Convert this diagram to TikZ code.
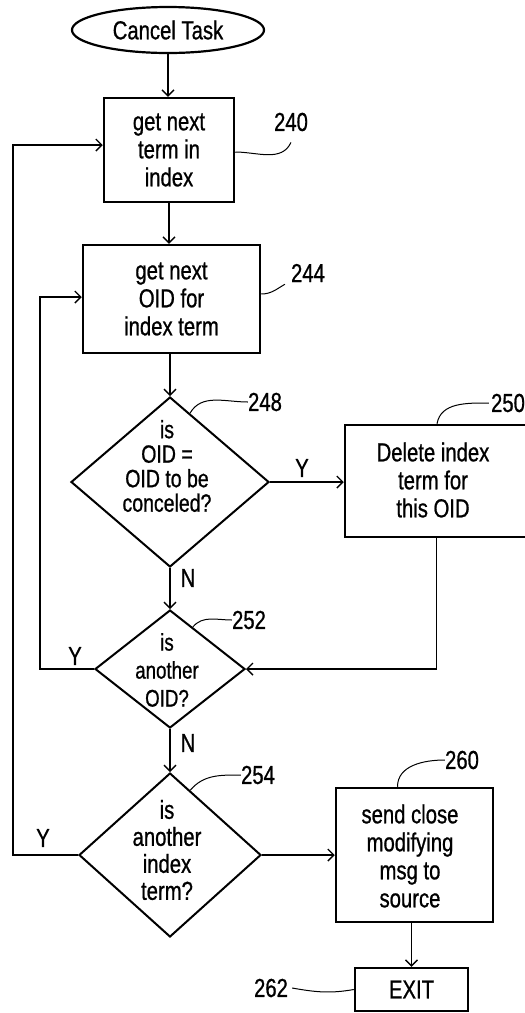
\documentclass[tikz,border=0pt]{standalone}
\usepackage{fontspec}
\setmainfont{Liberation Sans}[FakeStretch=0.78,FakeBold=0.8]
\usetikzlibrary{shapes.geometric,arrows.meta,calc}
\tikzset{
  every node/.style={font=\fontsize{26}{28}\selectfont},
  boxn/.style={draw, line width=2.5pt, inner sep=0pt, align=center},
  dia/.style={draw, diamond, line width=2pt, inner sep=0pt},
  dtxt/.style={inner sep=0pt, align=center},
  arr/.style={line width=1.5pt, -{Straight Barb[length=6pt,width=12pt,line width=1.4pt]}},
  con/.style={line width=1.5pt},
  lead/.style={line width=1pt},
  lbl/.style={inner sep=0pt},
}
\begin{document}
\begin{tikzpicture}[x=1pt,y=-1pt]
\useasboundingbox (0,0) rectangle (525,1013);
% nodes
\node[draw, ellipse, line width=2.2pt, inner sep=0pt, minimum width=192pt, minimum height=46pt] (start) at (168,30) {Cancel Task};
\node[boxn, minimum width=130pt, minimum height=104pt] (b240) at (169,150) {get next\\term in\\index};
\node[boxn, minimum width=177pt, minimum height=108pt] (b244) at (171.5,299) {get next\\OID for\\index term};
\node[dia, minimum width=198pt, minimum height=170pt] (d248) at (170,482) {};
\node[dtxt, font=\fontsize{25}{24.5}\selectfont] (t248) at (167,466) {is\\OID =\\OID to be\\conceled?};
\node[boxn, minimum width=183pt, minimum height=112pt] (b250) at (436.5,481) {};
\node[dtxt] (t250) at (433,480) {Delete index\\term for\\this OID};
\node[dia, minimum width=150pt, minimum height=118pt] (d252) at (170,669) {};
\node[dtxt, font=\fontsize{24}{28}\selectfont] (t252) at (167,670) {is\\another\\OID?};
\node[dia, minimum width=182pt, minimum height=164pt] (d254) at (170,855) {};
\node[dtxt, font=\fontsize{26}{27}\selectfont] (t254) at (167,850) {is\\another\\index\\term?};
\node[boxn, minimum width=157pt, minimum height=134pt] (b260) at (414.5,855) {};
\node[dtxt] (t260) at (410,856) {send close\\modifying\\msg to\\source};
\node[boxn, minimum width=113pt, minimum height=43pt] (exit) at (411.5,989.5) {EXIT};
% reference numerals
\node[lbl] (n240) at (291,122) {240};
\node[lbl] (n244) at (308,273) {244};
\node[lbl] (n248) at (265,402) {248};
\node[lbl] (n250) at (508,403) {250};
\node[lbl] (n252) at (249,620) {252};
\node[lbl] (n254) at (258,775) {254};
\node[lbl] (n260) at (462,760) {260};
\node[lbl] (n262) at (271,988) {262};
% Y / N labels
\node[lbl] (y248) at (302,468) {Y};
\node[lbl] (n248b) at (188,578) {N};
\node[lbl] (y252) at (75,656) {Y};
\node[lbl] (n252b) at (188,743) {N};
\node[lbl] (y254) at (43,838) {Y};
% loop corners
\coordinate (c1) at (40,669);
\coordinate (c2) at (13,855);
% connectors
\draw[arr] (start.south) -- (start.south |- b240.north);
\draw[arr] (b240.south) -- (b240.south |- b244.north);
\draw[arr] (d248.north |- b244.south) -- (d248.north);
\draw[arr] (d248.east) -- (d248.east -| b250.west);
\draw[arr] (d248.south) -- (d252.north);
\draw[arr] (b250.south) |- (d252.east);
\draw[arr] (d252.west) -- (c1) |- ([yshift=2pt]b244.west);
\draw[arr] (d252.south) -- (d254.north);
\draw[arr] (d254.west) -- (c2) |- ([yshift=5pt]b240.west);
\draw[arr] (d254.east) -- (d254.east -| b260.west);
\draw[arr] (exit.north |- b260.south) -- (exit.north);
% leaders
\draw[lead] ([yshift=-2pt]b240.east) to[out=0,in=-115] ([yshift=-11pt]n240.south);
\draw[lead] ([yshift=5pt]b244.east) to[out=0,in=-150] ([xshift=-6pt,yshift=-2pt]n244.south west);
\draw[lead] ($(d248.north)!0.2!(d248.east)$) to[out=60,in=180] (n248.west);
\draw[lead] ([xshift=0.5pt]b250.north) to[out=80,in=180] ([xshift=-2pt]n250.west);
\draw[lead] ($(d252.north)!0.3!(d252.east)$) to[out=50,in=180] (n252.west);
\draw[lead] ($(d254.north)!0.22!(d254.east)$) to[out=50,in=180] (n254.west);
\draw[lead] ([xshift=-17pt]b260.north) to[out=90,in=180] (n260.west);
\draw[lead] ([xshift=4pt]n262.east) to[out=-10,in=190] (exit.west);
\end{tikzpicture}
\end{document}
